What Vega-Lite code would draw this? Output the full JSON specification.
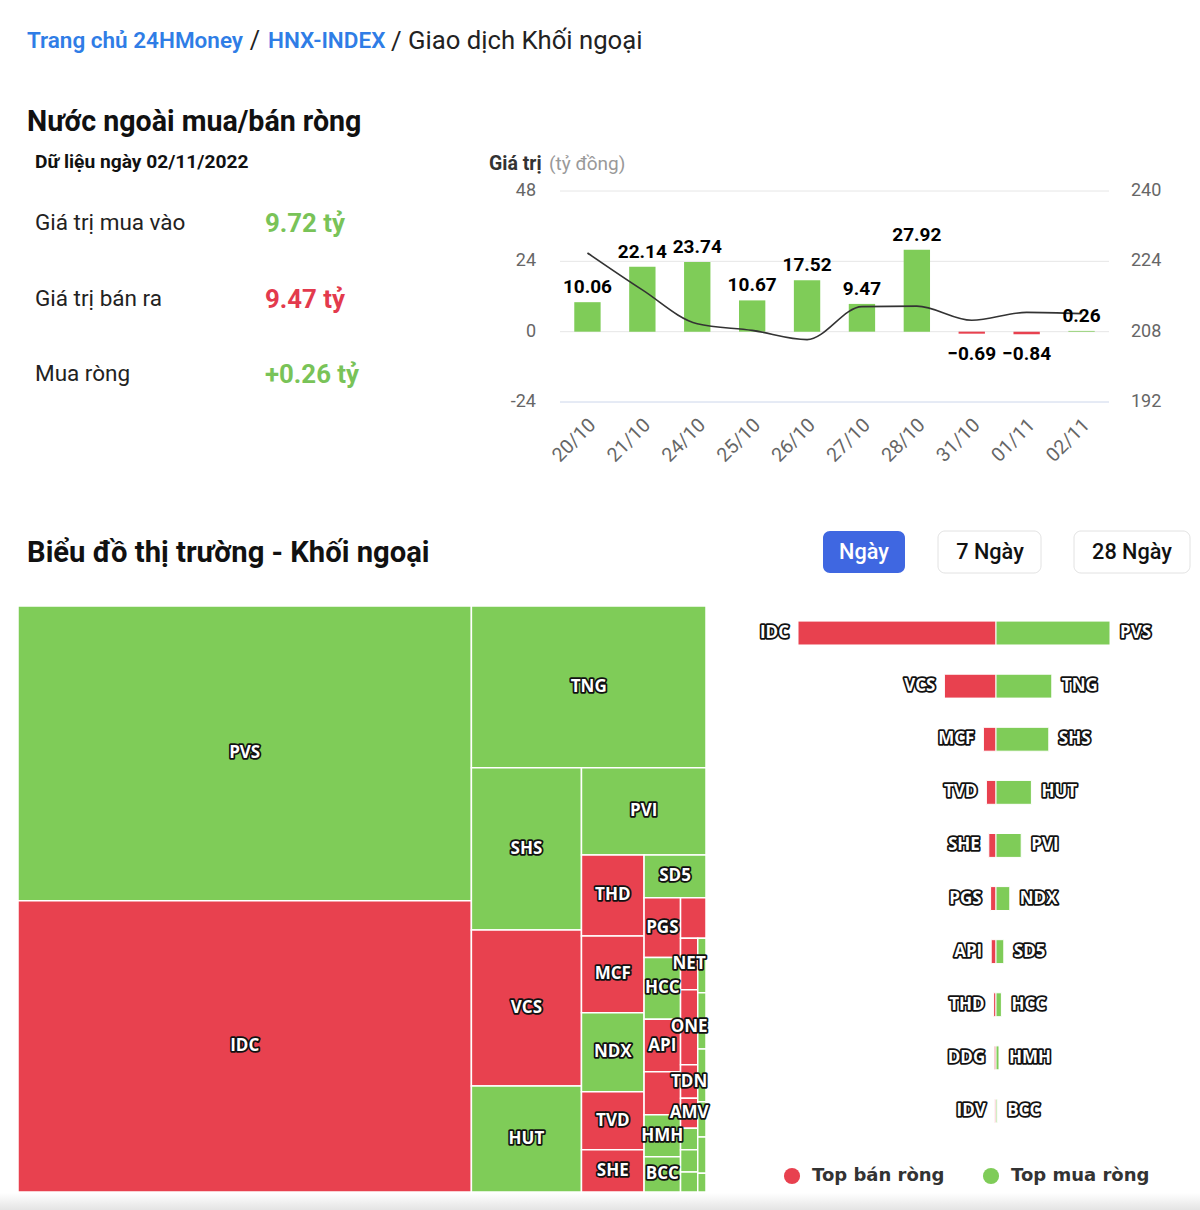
{
  "$schema": "https://vega.github.io/schema/vega-lite/v6.json",
  "width": 1200,
  "height": 1210,
  "padding": 0,
  "autosize": {"type": "none"},
  "background": "#ffffff",
  "config": {"view": {"stroke": null}, "font": "Roboto"},
  "resolve": {"scale": {"x": "independent", "y": "independent", "color": "independent"}},
  "datasets": {
    "daily": [
      {"d": "20/10", "v": 10.06, "hnx": 225.9},
      {"d": "21/10", "v": 22.14, "hnx": 217.5},
      {"d": "24/10", "v": 23.74, "hnx": 209.8},
      {"d": "25/10", "v": 10.67, "hnx": 208.3},
      {"d": "26/10", "v": 17.52, "hnx": 206.2},
      {"d": "27/10", "v": 9.47, "hnx": 213.7},
      {"d": "28/10", "v": 27.92, "hnx": 213.8},
      {"d": "31/10", "v": -0.69, "hnx": 210.6},
      {"d": "01/11", "v": -0.84, "hnx": 212.4},
      {"d": "02/11", "v": 0.26, "hnx": 212.1}
    ],
    "stats": [
      {"m": "Giá trị mua vào", "val": 9.72, "txt": "9.72 tỷ", "k": "buy"},
      {"m": "Giá trị bán ra", "val": 9.47, "txt": "9.47 tỷ", "k": "sell"},
      {"m": "Mua ròng", "val": 0.26, "txt": "+0.26 tỷ", "k": "net"}
    ],
    "top": [
      {"rank": 1, "seller": "IDC", "sell": -3.30, "buyer": "PVS", "buy": 1.90},
      {"rank": 2, "seller": "VCS", "sell": -0.86, "buyer": "TNG", "buy": 0.93},
      {"rank": 3, "seller": "MCF", "sell": -0.21, "buyer": "SHS", "buy": 0.88},
      {"rank": 4, "seller": "TVD", "sell": -0.16, "buyer": "HUT", "buy": 0.59},
      {"rank": 5, "seller": "SHE", "sell": -0.12, "buyer": "PVI", "buy": 0.42},
      {"rank": 6, "seller": "PGS", "sell": -0.09, "buyer": "NDX", "buy": 0.23},
      {"rank": 7, "seller": "API", "sell": -0.08, "buyer": "SD5", "buy": 0.13},
      {"rank": 8, "seller": "THD", "sell": -0.04, "buyer": "HCC", "buy": 0.09},
      {"rank": 9, "seller": "DDG", "sell": -0.03, "buyer": "HMH", "buy": 0.05},
      {"rank": 10, "seller": "IDV", "sell": -0.02, "buyer": "BCC", "buy": 0.02}
    ],
    "tiles": [
      {"ticker": "PVS", "side": "buy", "x0": 0, "x1": 65.9, "y0": 0, "y1": 50.3},
      {"ticker": "IDC", "side": "sell", "x0": 0, "x1": 65.9, "y0": 50.3, "y1": 100},
      {"ticker": "TNG", "side": "buy", "x0": 65.9, "x1": 100, "y0": 0, "y1": 27.6},
      {"ticker": "SHS", "side": "buy", "x0": 65.9, "x1": 81.9, "y0": 27.6, "y1": 55.3},
      {"ticker": "VCS", "side": "sell", "x0": 65.9, "x1": 81.9, "y0": 55.3, "y1": 81.9},
      {"ticker": "HUT", "side": "buy", "x0": 65.9, "x1": 81.9, "y0": 81.9, "y1": 100},
      {"ticker": "PVI", "side": "buy", "x0": 81.9, "x1": 100, "y0": 27.6, "y1": 42.5},
      {"ticker": "THD", "side": "sell", "x0": 81.9, "x1": 91.0, "y0": 42.5, "y1": 56.3},
      {"ticker": "MCF", "side": "sell", "x0": 81.9, "x1": 91.0, "y0": 56.3, "y1": 69.4},
      {"ticker": "NDX", "side": "buy", "x0": 81.9, "x1": 91.0, "y0": 69.4, "y1": 82.9},
      {"ticker": "TVD", "side": "sell", "x0": 81.9, "x1": 91.0, "y0": 82.9, "y1": 92.8},
      {"ticker": "SHE", "side": "sell", "x0": 81.9, "x1": 91.0, "y0": 92.8, "y1": 100},
      {"ticker": "SD5", "side": "buy", "x0": 91.0, "x1": 100, "y0": 42.5, "y1": 49.8},
      {"ticker": "PGS", "side": "sell", "x0": 91.0, "x1": 96.3, "y0": 49.8, "y1": 60.0},
      {"ticker": "HCC", "side": "buy", "x0": 91.0, "x1": 96.3, "y0": 60.0, "y1": 70.5},
      {"ticker": "API", "side": "sell", "x0": 91.0, "x1": 96.3, "y0": 70.5, "y1": 79.5},
      {"ticker": "", "side": "sell", "x0": 91.0, "x1": 96.3, "y0": 79.5, "y1": 86.8},
      {"ticker": "HMH", "side": "buy", "x0": 91.0, "x1": 96.3, "y0": 86.8, "y1": 94.0},
      {"ticker": "BCC", "side": "buy", "x0": 91.0, "x1": 96.3, "y0": 94.0, "y1": 100},
      {"ticker": "", "side": "sell", "x0": 96.3, "x1": 100, "y0": 49.8, "y1": 56.7},
      {"ticker": "NET", "side": "sell", "x0": 96.3, "x1": 98.8, "y0": 56.7, "y1": 65.5},
      {"ticker": "ONE", "side": "sell", "x0": 96.3, "x1": 98.8, "y0": 65.5, "y1": 78.3},
      {"ticker": "TDN", "side": "sell", "x0": 96.3, "x1": 98.8, "y0": 78.3, "y1": 84.0},
      {"ticker": "AMV", "side": "sell", "x0": 96.3, "x1": 98.8, "y0": 84.0, "y1": 89.1},
      {"ticker": "", "side": "buy", "x0": 96.3, "x1": 98.8, "y0": 89.1, "y1": 92.8},
      {"ticker": "", "side": "buy", "x0": 96.3, "x1": 98.8, "y0": 92.8, "y1": 96.6},
      {"ticker": "", "side": "buy", "x0": 96.3, "x1": 98.8, "y0": 96.6, "y1": 100},
      {"ticker": "", "side": "buy", "x0": 98.8, "x1": 100, "y0": 56.7, "y1": 66.0},
      {"ticker": "", "side": "buy", "x0": 98.8, "x1": 100, "y0": 66.0, "y1": 75.6},
      {"ticker": "", "side": "buy", "x0": 98.8, "x1": 100, "y0": 75.6, "y1": 84.6},
      {"ticker": "", "side": "buy", "x0": 98.8, "x1": 100, "y0": 84.6, "y1": 90.6},
      {"ticker": "", "side": "buy", "x0": 98.8, "x1": 100, "y0": 90.6, "y1": 96.8},
      {"ticker": "", "side": "buy", "x0": 98.8, "x1": 100, "y0": 96.8, "y1": 100}
    ],
    "legend": [
      {"s": "Top bán ròng", "k": "sell"},
      {"s": "Top mua ròng", "k": "buy"}
    ],
    "leftTicks": [{"t": -24}, {"t": 0}, {"t": 24}, {"t": 48}],
    "rightTicks": [{"r": 192}, {"r": 208}, {"r": 224}, {"r": 240}]
  },
  "layer": [
    {
      "data": {"values": [{"part": "edge"}]},
      "mark": {"type": "rect", "fill": {"gradient": "linear", "x1": 0, "y1": 0, "x2": 0, "y2": 1, "stops": [{"offset": 0, "color": "#ffffff"}, {"offset": 1, "color": "#e4e4e4"}]}},
      "encoding": {
        "x": {"datum": 0, "type": "quantitative", "scale": {"domain": [0, 1200], "range": [0, 1200], "nice": false, "zero": false}, "axis": null},
        "x2": {"datum": 1200},
        "y": {"datum": 1193, "type": "quantitative", "scale": {"domain": [0, 1210], "range": [0, 1210], "nice": false, "zero": false}, "axis": null},
        "y2": {"datum": 1210}
      }
    },
    {
      "data": {"values": [{"t": "Trang chủ 24HMoney"}]},
      "mark": {"type": "text", "align": "left", "baseline": "middle", "font": "Roboto", "fontSize": 22.5, "fontWeight": 600, "fill": "#2f7de6"},
      "encoding": {
        "text": {"field": "t"},
        "x": {"datum": 27, "type": "quantitative", "scale": {"domain": [0, 1200], "range": [0, 1200], "nice": false, "zero": false}, "axis": null},
        "y": {"datum": 41, "type": "quantitative", "scale": {"domain": [0, 1210], "range": [0, 1210], "nice": false, "zero": false}, "axis": null}
      }
    },
    {
      "data": {"values": [{"t": "/"}]},
      "mark": {"type": "text", "align": "center", "baseline": "middle", "font": "Roboto", "fontSize": 25, "fill": "#222222"},
      "encoding": {
        "text": {"field": "t"},
        "x": {"datum": 255, "type": "quantitative", "scale": {"domain": [0, 1200], "range": [0, 1200], "nice": false, "zero": false}, "axis": null},
        "y": {"datum": 41, "type": "quantitative", "scale": {"domain": [0, 1210], "range": [0, 1210], "nice": false, "zero": false}, "axis": null}
      }
    },
    {
      "data": {"values": [{"t": "HNX-INDEX"}]},
      "mark": {"type": "text", "align": "left", "baseline": "middle", "font": "Roboto", "fontSize": 22.5, "fontWeight": 600, "fill": "#2f7de6"},
      "encoding": {
        "text": {"field": "t"},
        "x": {"datum": 268, "type": "quantitative", "scale": {"domain": [0, 1200], "range": [0, 1200], "nice": false, "zero": false}, "axis": null},
        "y": {"datum": 41, "type": "quantitative", "scale": {"domain": [0, 1210], "range": [0, 1210], "nice": false, "zero": false}, "axis": null}
      }
    },
    {
      "data": {"values": [{"t": "/ Giao dịch Khối ngoại"}]},
      "mark": {"type": "text", "align": "left", "baseline": "middle", "font": "Roboto", "fontSize": 25.7, "fill": "#222222"},
      "encoding": {
        "text": {"field": "t"},
        "x": {"datum": 391, "type": "quantitative", "scale": {"domain": [0, 1200], "range": [0, 1200], "nice": false, "zero": false}, "axis": null},
        "y": {"datum": 41, "type": "quantitative", "scale": {"domain": [0, 1210], "range": [0, 1210], "nice": false, "zero": false}, "axis": null}
      }
    },
    {
      "data": {"values": [{"t": "Nước ngoài mua/bán ròng"}]},
      "mark": {"type": "text", "align": "left", "baseline": "middle", "font": "Roboto", "fontSize": 28.6, "fontWeight": "bold", "fill": "#111111"},
      "encoding": {
        "text": {"field": "t"},
        "x": {"datum": 27, "type": "quantitative", "scale": {"domain": [0, 1200], "range": [0, 1200], "nice": false, "zero": false}, "axis": null},
        "y": {"datum": 122, "type": "quantitative", "scale": {"domain": [0, 1210], "range": [0, 1210], "nice": false, "zero": false}, "axis": null}
      }
    },
    {
      "data": {"values": [{"t": "Dữ liệu ngày 02/11/2022"}]},
      "mark": {"type": "text", "align": "left", "baseline": "middle", "font": "Roboto", "fontSize": 19.2, "fontWeight": "bold", "fill": "#111111"},
      "encoding": {
        "text": {"field": "t"},
        "x": {"datum": 35, "type": "quantitative", "scale": {"domain": [0, 1200], "range": [0, 1200], "nice": false, "zero": false}, "axis": null},
        "y": {"datum": 162, "type": "quantitative", "scale": {"domain": [0, 1210], "range": [0, 1210], "nice": false, "zero": false}, "axis": null}
      }
    },
    {
      "data": {"name": "stats"},
      "mark": {"type": "text", "align": "left", "baseline": "middle", "font": "Roboto", "fontSize": 22.5, "fill": "#222222"},
      "encoding": {
        "text": {"field": "m"},
        "y": {"field": "m", "type": "nominal", "scale": {"type": "point", "domain": ["Giá trị mua vào", "Giá trị bán ra", "Mua ròng"], "range": [223, 374], "padding": 0}, "axis": null},
        "x": {"datum": 35, "type": "quantitative", "scale": {"domain": [0, 1200], "range": [0, 1200], "nice": false, "zero": false}, "axis": null}
      }
    },
    {
      "data": {"name": "stats"},
      "mark": {"type": "text", "align": "left", "baseline": "middle", "font": "Roboto", "fontSize": 25.8, "fontWeight": "bold"},
      "encoding": {
        "text": {"field": "txt"},
        "y": {"field": "m", "type": "nominal", "scale": {"type": "point", "domain": ["Giá trị mua vào", "Giá trị bán ra", "Mua ròng"], "range": [224, 375], "padding": 0}, "axis": null},
        "x": {"datum": 265, "type": "quantitative", "scale": {"domain": [0, 1200], "range": [0, 1200], "nice": false, "zero": false}, "axis": null},
        "color": {"field": "k", "type": "nominal", "scale": {"domain": ["buy", "sell", "net"], "range": ["#79c358", "#e33a4d", "#79c358"]}, "legend": null}
      }
    },
    {
      "data": {"values": [{"t": "Giá trị"}]},
      "mark": {"type": "text", "align": "left", "baseline": "middle", "font": "Roboto", "fontSize": 19.5, "fontWeight": "bold", "fill": "#333333"},
      "encoding": {
        "text": {"field": "t"},
        "x": {"datum": 489, "type": "quantitative", "scale": {"domain": [0, 1200], "range": [0, 1200], "nice": false, "zero": false}, "axis": null},
        "y": {"datum": 164, "type": "quantitative", "scale": {"domain": [0, 1210], "range": [0, 1210], "nice": false, "zero": false}, "axis": null}
      }
    },
    {
      "data": {"values": [{"t": "(tỷ đồng)"}]},
      "mark": {"type": "text", "align": "left", "baseline": "middle", "font": "Roboto", "fontSize": 19, "fill": "#999999"},
      "encoding": {
        "text": {"field": "t"},
        "x": {"datum": 549, "type": "quantitative", "scale": {"domain": [0, 1200], "range": [0, 1200], "nice": false, "zero": false}, "axis": null},
        "y": {"datum": 164, "type": "quantitative", "scale": {"domain": [0, 1210], "range": [0, 1210], "nice": false, "zero": false}, "axis": null}
      }
    },
    {
      "data": {"name": "leftTicks"},
      "mark": {"type": "rule", "strokeWidth": 1},
      "encoding": {
        "y": {"field": "t", "type": "quantitative", "scale": {"domain": [-24, 48], "range": [402, 191], "nice": false, "zero": false}, "axis": null},
        "x": {"datum": 0, "type": "quantitative", "scale": {"domain": [0, 1], "range": [560, 1109], "nice": false, "zero": false}, "axis": null},
        "x2": {"datum": 1},
        "color": {"condition": {"test": "datum.t == -24", "value": "#ccd6eb"}, "value": "#e6e6e6"}
      }
    },
    {
      "data": {"name": "leftTicks"},
      "mark": {"type": "text", "align": "right", "baseline": "middle", "font": "Roboto", "fontSize": 18, "fill": "#666666", "dx": -24},
      "encoding": {
        "text": {"field": "t"},
        "y": {"field": "t", "type": "quantitative", "scale": {"domain": [-24, 48], "range": [402, 191], "nice": false, "zero": false}, "axis": null},
        "x": {"datum": 0, "type": "quantitative", "scale": {"domain": [0, 1], "range": [560, 1109], "nice": false, "zero": false}, "axis": null}
      }
    },
    {
      "data": {"name": "rightTicks"},
      "mark": {"type": "text", "align": "left", "baseline": "middle", "font": "Roboto", "fontSize": 18, "fill": "#666666", "dx": 22},
      "encoding": {
        "text": {"field": "r"},
        "y": {"field": "r", "type": "quantitative", "scale": {"domain": [192, 240], "range": [402, 191], "nice": false, "zero": false}, "axis": null},
        "x": {"datum": 1, "type": "quantitative", "scale": {"domain": [0, 1], "range": [560, 1109], "nice": false, "zero": false}, "axis": null}
      }
    },
    {
      "data": {"name": "daily"},
      "mark": {"type": "bar"},
      "encoding": {
        "x": {"field": "d", "type": "nominal", "sort": null, "scale": {"type": "band", "domain": ["20/10", "21/10", "24/10", "25/10", "26/10", "27/10", "28/10", "31/10", "01/11", "02/11"], "range": [560, 1109], "paddingInner": 0.52, "paddingOuter": 0.26}, "axis": null},
        "y": {"field": "v", "type": "quantitative", "scale": {"domain": [-24, 48], "range": [402, 191], "nice": false, "zero": false}, "axis": null},
        "y2": {"datum": 0},
        "color": {"condition": {"test": "datum.v < 0", "value": "#e8414f"}, "value": "#7fcc58"}
      }
    },
    {
      "data": {"name": "daily"},
      "mark": {"type": "line", "interpolate": "monotone", "stroke": "#333333", "strokeWidth": 1.6},
      "encoding": {
        "x": {"field": "d", "type": "nominal", "sort": null, "scale": {"type": "band", "domain": ["20/10", "21/10", "24/10", "25/10", "26/10", "27/10", "28/10", "31/10", "01/11", "02/11"], "range": [560, 1109], "paddingInner": 0.52, "paddingOuter": 0.26}, "axis": null},
        "y": {"field": "hnx", "type": "quantitative", "scale": {"domain": [192, 240], "range": [402, 191], "nice": false, "zero": false}, "axis": null}
      }
    },
    {
      "data": {"name": "daily"},
      "transform": [{"filter": "datum.v >= 0"}],
      "mark": {"type": "text", "align": "center", "baseline": "alphabetic", "dy": -9, "font": "Roboto", "fontSize": 19, "fontWeight": "bold", "fill": "#000000"},
      "encoding": {
        "text": {"field": "v", "type": "quantitative", "format": ".2f"},
        "x": {"field": "d", "type": "nominal", "sort": null, "scale": {"type": "band", "domain": ["20/10", "21/10", "24/10", "25/10", "26/10", "27/10", "28/10", "31/10", "01/11", "02/11"], "range": [560, 1109], "paddingInner": 0.52, "paddingOuter": 0.26}, "axis": null},
        "y": {"field": "v", "type": "quantitative", "scale": {"domain": [-24, 48], "range": [402, 191], "nice": false, "zero": false}, "axis": null}
      }
    },
    {
      "data": {"name": "daily"},
      "transform": [{"filter": "datum.v < 0"}],
      "mark": {"type": "text", "align": "center", "baseline": "top", "dy": 11, "font": "Roboto", "fontSize": 19, "fontWeight": "bold", "fill": "#000000"},
      "encoding": {
        "text": {"field": "v", "type": "quantitative", "format": ".2f"},
        "x": {"field": "d", "type": "nominal", "sort": null, "scale": {"type": "band", "domain": ["20/10", "21/10", "24/10", "25/10", "26/10", "27/10", "28/10", "31/10", "01/11", "02/11"], "range": [560, 1109], "paddingInner": 0.52, "paddingOuter": 0.26}, "axis": null},
        "y": {"field": "v", "type": "quantitative", "scale": {"domain": [-24, 48], "range": [402, 191], "nice": false, "zero": false}, "axis": null}
      }
    },
    {
      "data": {"name": "daily"},
      "mark": {"type": "text", "align": "right", "baseline": "middle", "angle": 315, "xOffset": 5, "yOffset": 20, "font": "Roboto", "fontSize": 19.5, "fill": "#666666"},
      "encoding": {
        "text": {"field": "d"},
        "x": {"field": "d", "type": "nominal", "sort": null, "scale": {"type": "band", "domain": ["20/10", "21/10", "24/10", "25/10", "26/10", "27/10", "28/10", "31/10", "01/11", "02/11"], "range": [560, 1109], "paddingInner": 0.52, "paddingOuter": 0.26}, "axis": null},
        "y": {"datum": -24, "type": "quantitative", "scale": {"domain": [-24, 48], "range": [402, 191], "nice": false, "zero": false}, "axis": null}
      }
    },
    {
      "data": {"values": [{"t": "Biểu đồ thị trường - Khối ngoại"}]},
      "mark": {"type": "text", "align": "left", "baseline": "middle", "font": "Roboto", "fontSize": 29.2, "fontWeight": "bold", "fill": "#111111"},
      "encoding": {
        "text": {"field": "t"},
        "x": {"datum": 27, "type": "quantitative", "scale": {"domain": [0, 1200], "range": [0, 1200], "nice": false, "zero": false}, "axis": null},
        "y": {"datum": 553, "type": "quantitative", "scale": {"domain": [0, 1210], "range": [0, 1210], "nice": false, "zero": false}, "axis": null}
      }
    },
    {
      "data": {"values": [{"b": "Ngày"}]},
      "mark": {"type": "rect", "fill": "#3f67e1", "cornerRadius": 7},
      "encoding": {
        "x": {"datum": 823, "type": "quantitative", "scale": {"domain": [0, 1200], "range": [0, 1200], "nice": false, "zero": false}, "axis": null},
        "x2": {"datum": 905},
        "y": {"datum": 531, "type": "quantitative", "scale": {"domain": [0, 1210], "range": [0, 1210], "nice": false, "zero": false}, "axis": null},
        "y2": {"datum": 573}
      }
    },
    {
      "data": {"values": [{"b": "7 Ngày"}]},
      "mark": {"type": "rect", "fill": "#ffffff", "stroke": "#e2e2e2", "strokeWidth": 1, "cornerRadius": 7},
      "encoding": {
        "x": {"datum": 938, "type": "quantitative", "scale": {"domain": [0, 1200], "range": [0, 1200], "nice": false, "zero": false}, "axis": null},
        "x2": {"datum": 1041},
        "y": {"datum": 531, "type": "quantitative", "scale": {"domain": [0, 1210], "range": [0, 1210], "nice": false, "zero": false}, "axis": null},
        "y2": {"datum": 573}
      }
    },
    {
      "data": {"values": [{"b": "28 Ngày"}]},
      "mark": {"type": "rect", "fill": "#ffffff", "stroke": "#e2e2e2", "strokeWidth": 1, "cornerRadius": 7},
      "encoding": {
        "x": {"datum": 1074, "type": "quantitative", "scale": {"domain": [0, 1200], "range": [0, 1200], "nice": false, "zero": false}, "axis": null},
        "x2": {"datum": 1190},
        "y": {"datum": 531, "type": "quantitative", "scale": {"domain": [0, 1210], "range": [0, 1210], "nice": false, "zero": false}, "axis": null},
        "y2": {"datum": 573}
      }
    },
    {
      "data": {"values": [{"b": "Ngày"}]},
      "mark": {"type": "text", "align": "center", "baseline": "middle", "font": "Roboto", "fontSize": 21.7, "fontWeight": 500, "fill": "#ffffff"},
      "encoding": {
        "text": {"field": "b"},
        "x": {"datum": 864, "type": "quantitative", "scale": {"domain": [0, 1200], "range": [0, 1200], "nice": false, "zero": false}, "axis": null},
        "y": {"datum": 552, "type": "quantitative", "scale": {"domain": [0, 1210], "range": [0, 1210], "nice": false, "zero": false}, "axis": null}
      }
    },
    {
      "data": {"values": [{"b": "7 Ngày"}]},
      "mark": {"type": "text", "align": "center", "baseline": "middle", "font": "Roboto", "fontSize": 21.7, "fontWeight": 500, "fill": "#111111"},
      "encoding": {
        "text": {"field": "b"},
        "x": {"datum": 990, "type": "quantitative", "scale": {"domain": [0, 1200], "range": [0, 1200], "nice": false, "zero": false}, "axis": null},
        "y": {"datum": 552, "type": "quantitative", "scale": {"domain": [0, 1210], "range": [0, 1210], "nice": false, "zero": false}, "axis": null}
      }
    },
    {
      "data": {"values": [{"b": "28 Ngày"}]},
      "mark": {"type": "text", "align": "center", "baseline": "middle", "font": "Roboto", "fontSize": 21.7, "fontWeight": 500, "fill": "#111111"},
      "encoding": {
        "text": {"field": "b"},
        "x": {"datum": 1132, "type": "quantitative", "scale": {"domain": [0, 1200], "range": [0, 1200], "nice": false, "zero": false}, "axis": null},
        "y": {"datum": 552, "type": "quantitative", "scale": {"domain": [0, 1210], "range": [0, 1210], "nice": false, "zero": false}, "axis": null}
      }
    },
    {
      "data": {"name": "tiles"},
      "mark": {"type": "rect", "stroke": "#ffffff", "strokeWidth": 1.5},
      "encoding": {
        "x": {"field": "x0", "type": "quantitative", "scale": {"domain": [0, 100], "range": [18, 706], "nice": false, "zero": false}, "axis": null},
        "x2": {"field": "x1"},
        "y": {"field": "y0", "type": "quantitative", "scale": {"domain": [0, 100], "range": [606, 1192], "nice": false, "zero": false}, "axis": null},
        "y2": {"field": "y1"},
        "color": {"field": "side", "type": "nominal", "scale": {"domain": ["buy", "sell"], "range": ["#7fcc58", "#e8414f"]}, "legend": null}
      }
    },
    {
      "data": {"name": "tiles"},
      "transform": [
        {"filter": "datum.ticker != ''"},
        {"calculate": "(datum.x0 + datum.x1) / 2", "as": "cx"},
        {"calculate": "(datum.y0 + datum.y1) / 2", "as": "cy"}
      ],
      "mark": {"type": "text", "align": "center", "baseline": "middle", "font": "Open Sans", "fontSize": 17, "fontWeight": "bold", "fill": "#111111", "stroke": "#111111", "strokeWidth": 3.5, "strokeJoin": "round"},
      "encoding": {
        "text": {"field": "ticker"},
        "x": {"field": "cx", "type": "quantitative", "scale": {"domain": [0, 100], "range": [18, 706], "nice": false, "zero": false}, "axis": null},
        "y": {"field": "cy", "type": "quantitative", "scale": {"domain": [0, 100], "range": [606, 1192], "nice": false, "zero": false}, "axis": null}
      }
    },
    {
      "data": {"name": "tiles"},
      "transform": [
        {"filter": "datum.ticker != ''"},
        {"calculate": "(datum.x0 + datum.x1) / 2", "as": "cx"},
        {"calculate": "(datum.y0 + datum.y1) / 2", "as": "cy"}
      ],
      "mark": {"type": "text", "align": "center", "baseline": "middle", "font": "Open Sans", "fontSize": 17, "fontWeight": "bold", "fill": "#ffffff"},
      "encoding": {
        "text": {"field": "ticker"},
        "x": {"field": "cx", "type": "quantitative", "scale": {"domain": [0, 100], "range": [18, 706], "nice": false, "zero": false}, "axis": null},
        "y": {"field": "cy", "type": "quantitative", "scale": {"domain": [0, 100], "range": [606, 1192], "nice": false, "zero": false}, "axis": null}
      }
    },
    {
      "data": {"name": "top"},
      "mark": {"type": "bar", "fill": "#e8414f", "stroke": "#ffffff", "strokeWidth": 1},
      "encoding": {
        "y": {"field": "rank", "type": "ordinal", "scale": {"type": "band", "domain": [1, 2, 3, 4, 5, 6, 7, 8, 9, 10], "range": [606.5, 1137.5], "paddingInner": 0.55, "paddingOuter": 0.275}, "axis": null},
        "x": {"field": "sell", "type": "quantitative", "scale": {"domain": [-3, 3], "range": [816, 1176], "nice": false, "zero": false}, "axis": null},
        "x2": {"datum": 0}
      }
    },
    {
      "data": {"name": "top"},
      "mark": {"type": "bar", "fill": "#7fcc58", "stroke": "#ffffff", "strokeWidth": 1},
      "encoding": {
        "y": {"field": "rank", "type": "ordinal", "scale": {"type": "band", "domain": [1, 2, 3, 4, 5, 6, 7, 8, 9, 10], "range": [606.5, 1137.5], "paddingInner": 0.55, "paddingOuter": 0.275}, "axis": null},
        "x": {"field": "buy", "type": "quantitative", "scale": {"domain": [-3, 3], "range": [816, 1176], "nice": false, "zero": false}, "axis": null},
        "x2": {"datum": 0}
      }
    },
    {
      "data": {"name": "top"},
      "mark": {"type": "text", "align": "right", "baseline": "middle", "dx": -9, "font": "Open Sans", "fontSize": 17, "fontWeight": "bold", "fill": "#111111", "stroke": "#111111", "strokeWidth": 3.5, "strokeJoin": "round"},
      "encoding": {
        "text": {"field": "seller"},
        "y": {"field": "rank", "type": "ordinal", "scale": {"type": "band", "domain": [1, 2, 3, 4, 5, 6, 7, 8, 9, 10], "range": [606.5, 1137.5], "paddingInner": 0.55, "paddingOuter": 0.275}, "axis": null},
        "x": {"field": "sell", "type": "quantitative", "scale": {"domain": [-3, 3], "range": [816, 1176], "nice": false, "zero": false}, "axis": null}
      }
    },
    {
      "data": {"name": "top"},
      "mark": {"type": "text", "align": "right", "baseline": "middle", "dx": -9, "font": "Open Sans", "fontSize": 17, "fontWeight": "bold", "fill": "#ffffff"},
      "encoding": {
        "text": {"field": "seller"},
        "y": {"field": "rank", "type": "ordinal", "scale": {"type": "band", "domain": [1, 2, 3, 4, 5, 6, 7, 8, 9, 10], "range": [606.5, 1137.5], "paddingInner": 0.55, "paddingOuter": 0.275}, "axis": null},
        "x": {"field": "sell", "type": "quantitative", "scale": {"domain": [-3, 3], "range": [816, 1176], "nice": false, "zero": false}, "axis": null}
      }
    },
    {
      "data": {"name": "top"},
      "mark": {"type": "text", "align": "left", "baseline": "middle", "dx": 10, "font": "Open Sans", "fontSize": 17, "fontWeight": "bold", "fill": "#111111", "stroke": "#111111", "strokeWidth": 3.5, "strokeJoin": "round"},
      "encoding": {
        "text": {"field": "buyer"},
        "y": {"field": "rank", "type": "ordinal", "scale": {"type": "band", "domain": [1, 2, 3, 4, 5, 6, 7, 8, 9, 10], "range": [606.5, 1137.5], "paddingInner": 0.55, "paddingOuter": 0.275}, "axis": null},
        "x": {"field": "buy", "type": "quantitative", "scale": {"domain": [-3, 3], "range": [816, 1176], "nice": false, "zero": false}, "axis": null}
      }
    },
    {
      "data": {"name": "top"},
      "mark": {"type": "text", "align": "left", "baseline": "middle", "dx": 10, "font": "Open Sans", "fontSize": 17, "fontWeight": "bold", "fill": "#ffffff"},
      "encoding": {
        "text": {"field": "buyer"},
        "y": {"field": "rank", "type": "ordinal", "scale": {"type": "band", "domain": [1, 2, 3, 4, 5, 6, 7, 8, 9, 10], "range": [606.5, 1137.5], "paddingInner": 0.55, "paddingOuter": 0.275}, "axis": null},
        "x": {"field": "buy", "type": "quantitative", "scale": {"domain": [-3, 3], "range": [816, 1176], "nice": false, "zero": false}, "axis": null}
      }
    },
    {
      "data": {"name": "legend"},
      "mark": {"type": "point", "filled": true, "size": 260, "opacity": 1},
      "encoding": {
        "x": {"field": "s", "type": "nominal", "sort": null, "scale": {"type": "point", "domain": ["Top bán ròng", "Top mua ròng"], "range": [792, 991], "padding": 0}, "axis": null},
        "y": {"datum": 1176, "type": "quantitative", "scale": {"domain": [0, 1210], "range": [0, 1210], "nice": false, "zero": false}, "axis": null},
        "color": {"field": "k", "type": "nominal", "scale": {"domain": ["sell", "buy"], "range": ["#e8414f", "#7fcc58"]}, "legend": null}
      }
    },
    {
      "data": {"name": "legend"},
      "mark": {"type": "text", "align": "left", "baseline": "middle", "dx": 20, "font": "DejaVu Sans", "fontSize": 18, "fontWeight": "bold", "fill": "#333333"},
      "encoding": {
        "text": {"field": "s"},
        "x": {"field": "s", "type": "nominal", "sort": null, "scale": {"type": "point", "domain": ["Top bán ròng", "Top mua ròng"], "range": [792, 991], "padding": 0}, "axis": null},
        "y": {"datum": 1176, "type": "quantitative", "scale": {"domain": [0, 1210], "range": [0, 1210], "nice": false, "zero": false}, "axis": null}
      }
    }
  ]
}
